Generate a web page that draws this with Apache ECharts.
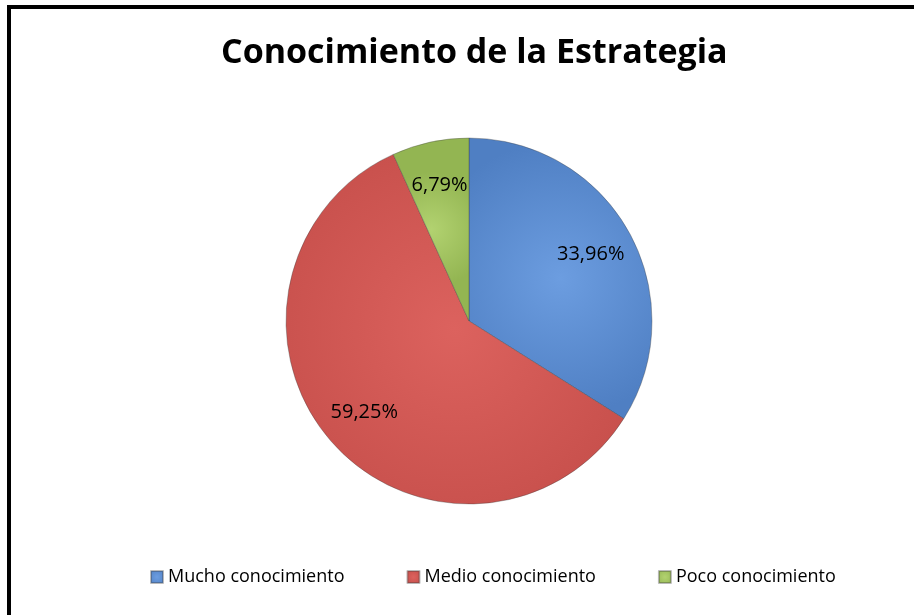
<!DOCTYPE html>
<html>
<head>
<meta charset="utf-8">
<script src="https://cdn.jsdelivr.net/npm/echarts@6/dist/echarts.min.js"></script>
<style>
  html, body { margin: 0; padding: 0; background: #fff; }
  #chart { width: 914px; height: 615px; }
</style>
</head>
<body>
<div id="chart"></div>
<script>
// datos
var categories = ['Mucho conocimiento', 'Medio conocimiento', 'Poco conocimiento']
var values = [33.96, 59.25, 6.79]
var labels = ['33,96%', '59,25%', '6,79%']

var colorArr = [
  ['#6c9de0', '#4f7fc3'],
  ['#dc625e', '#c24b47'],
  ['#b2d270', '#93b552']
]

function grad(c) {
  return {
    type: 'radial', x: 0.5, y: 0.5, r: 0.75,
    colorStops: [{ offset: 0, color: c[0] }, { offset: 1, color: c[1] }]
  }
}

var chart = echarts.init(document.getElementById('chart'))

var pieData = categories.map(function (name, i) {
  return { name: name, value: values[i], itemStyle: { color: grad(colorArr[i]) } }
})
// serie transparente solo para colocar las etiquetas mas afuera
var labelData = categories.map(function (name, i) {
  return { name: name, value: values[i], label: { formatter: labels[i] } }
})

var options = {
  backgroundColor: '#fff',
  animation: false,
  title: {
    text: 'Conocimiento de la Estrategia',
    left: 216,
    top: 31,
    textStyle: {
      fontFamily: 'Open Sans',
      fontWeight: 'bold',
      fontSize: 34,
      color: '#000'
    }
  },
  legend: {
    bottom: 24,
    left: 145,
    icon: 'rect',
    itemWidth: 12,
    itemHeight: 12,
    itemGap: 62,
    data: categories,
    textStyle: {
      fontFamily: 'Open Sans',
      fontSize: 18,
      color: '#000'
    }
  },
  graphic: [{
    type: 'rect',
    shape: { x: 9, y: 7, width: 1000, height: 1000 },
    style: { fill: 'none', stroke: '#000', lineWidth: 4 },
    silent: true
  }],
  series: [{
    type: 'pie',
    center: [469, 321],
    radius: [0, 183],
    startAngle: 90,
    clockwise: true,
    label: { show: false },
    labelLine: { show: false },
    itemStyle: { borderColor: 'rgba(60,60,60,0.35)', borderWidth: 1 },
    emphasis: { disabled: true },
    data: pieData
  }, {
    type: 'pie',
    center: [469, 321],
    radius: [0, 272],
    startAngle: 90,
    clockwise: true,
    silent: true,
    itemStyle: { color: 'rgba(0,0,0,0)' },
    label: {
      show: true,
      position: 'inside',
      fontFamily: 'Open Sans',
      fontSize: 20,
      color: '#000'
    },
    labelLine: { show: false },
    emphasis: { disabled: true },
    data: labelData
  }]
}
chart.setOption(options)
</script>
</body>
</html>
